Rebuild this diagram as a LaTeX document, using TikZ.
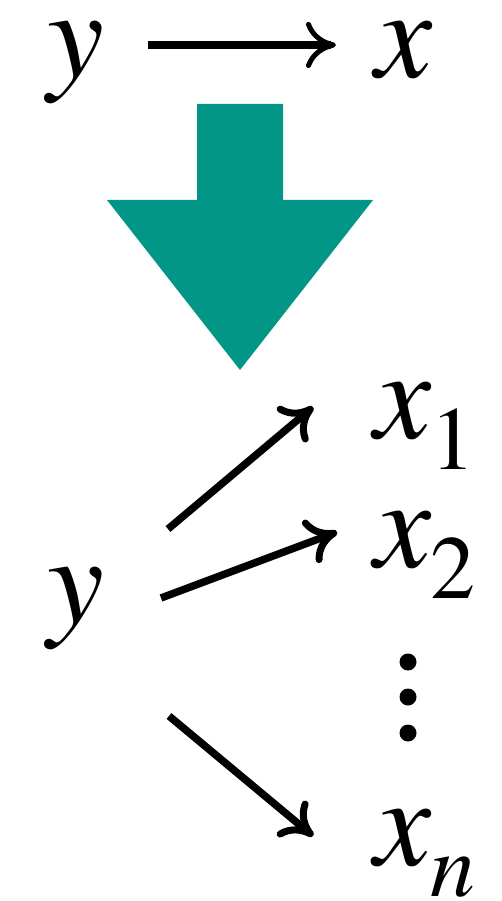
\documentclass[tikz,border=0pt]{standalone}
\usepackage{fontspec}
\setmainfont{texgyretermes}[Extension=.otf, UprightFont=*-regular, ItalicFont=*-italic, BoldFont=*-bold, BoldItalicFont=*-bolditalic]
\usetikzlibrary{arrows.meta}
\definecolor{teal1}{RGB}{2,150,135}
\newcommand{\bigsz}{\fontsize{128}{132}\selectfont}
\newcommand{\subsz}{\fontsize{90}{94}\selectfont}
\tikzset{
  lbl/.style={inner sep=0pt, outer sep=0pt, anchor=base west, text height=58pt, text depth=20pt, font=\bigsz\itshape},
  thinarrow/.style={line width=8pt, -{Computer Modern Rightarrow[length=30pt,width=46pt,line width=5pt]}},
  fatarrow/.style={line width=7.5pt, -{Computer Modern Rightarrow[length=30pt,width=46pt,line width=7pt]}},
  dotc/.style={circle, fill=black, inner sep=0pt, minimum size=17pt}
}
\begin{document}
\begin{tikzpicture}[x=1pt,y=-1pt]
\useasboundingbox (0,0) rectangle (502,901);
% top row
\node[lbl] (ytop) at (47,78) {y};
\node[lbl] (xtop) at (375,78) {x};
\coordinate (ta) at (148,45);
\coordinate (tb) at (336,45);
\draw[thinarrow] (ta) -- (tb);
% big teal arrow
\fill[teal1] (197,104) -- (283,104) -- (283,200) -- (373,200) -- (240,370) -- (107,200) -- (197,200) -- cycle;
% bottom
\node[lbl] (ybot) at (47,623) {y};
\node[lbl] (x1) at (374,438) {x\raisebox{-31pt}{\subsz\upshape 1}};
\node[lbl] (x2) at (374,567) {x\raisebox{-31pt}{\subsz\upshape 2}};
\node[lbl] (xn) at (374,865) {x\raisebox{-31pt}{\subsz n}};
\node[dotc] (d1) at (408,662) {};
\node[dotc] (d2) at (408,697) {};
\node[dotc] (d3) at (408,733) {};
\coordinate (a1s) at (168,529);
\coordinate (a1e) at (313,407);
\coordinate (a2s) at (161,598);
\coordinate (a2e) at (337,532);
\coordinate (a3s) at (169,716);
\coordinate (a3e) at (313,836);
\draw[fatarrow] (a1s) -- (a1e);
\draw[fatarrow] (a2s) -- (a2e);
\draw[fatarrow] (a3s) -- (a3e);
\end{tikzpicture}
\end{document}
